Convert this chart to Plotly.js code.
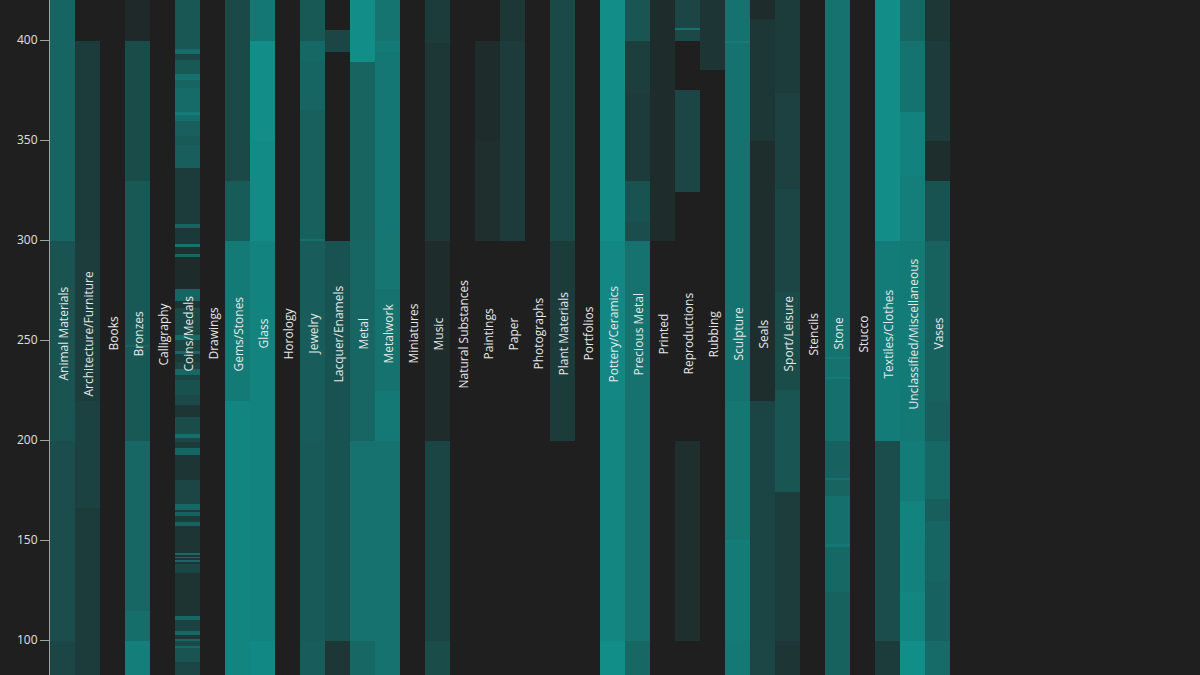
<!DOCTYPE html>
<html><head><meta charset="utf-8">
<script src="https://cdn.plot.ly/plotly-3.0.1.min.js"></script>
<style>html,body{margin:0;padding:0;background:#1f1f1f;}#chart{width:1200px;height:675px;}</style>
</head><body><div id="chart"></div>
<script>
const categories = ["Animal Materials","Architecture/Furniture","Books","Bronzes","Calligraphy","Coins/Medals","Drawings","Gems/Stones","Glass","Horology","Jewelry","Lacquer/Enamels","Metal","Metalwork","Miniatures","Music","Natural Substances","Paintings","Paper","Photographs","Plant Materials","Portfolios","Pottery/Ceramics","Precious Metal","Printed","Reproductions","Rubbing","Sculpture","Seals","Sport/Leisure","Stencils","Stone","Stucco","Textiles/Clothes","Unclassified/Miscellaneous","Vases"];

// each block: [upper year, lower year, intensity level 0-10]
const animalMaterials = [[421,299.5,5.8],[299.5,199.5,4.3],[199.5,99.5,3.6],[99.5,82,3.0]];
const architectureFurniture = [[399.5,299.5,2.0],[299.5,219.5,2.1],[219.5,166,2.6],[166,82,2.0]];
const books = [];
const bronzes = [[421,399.5,0.3],[399.5,329.5,3.5],[329.5,247.5,4.7],[247.5,246.5,5.8],[246.5,199.5,4.7],[199.5,114.4,6.0],[114.4,99.5,6.7],[99.5,82,8.2]];
const calligraphy = [];
const coinsMedals = [[421,395.3,4.5],[395.3,393.1,6.5],[393.1,389.9,3.0],[389.9,383.0,4.7],[383.0,380.2,7.0],[380.2,375.9,5.8],[375.9,364.0,6.3],[364.0,362.3,8.0],[362.3,359.7,6.7],[359.7,352.2,5.3],[352.2,347.3,4.8],[347.3,336.1,5.2],[336.1,308.1,2.0],[308.1,305.9,5.8],[305.9,298.0,1.8],[298.0,296.3,7.0],[296.3,293.0,1.0],[293.0,291.7,6.0],[291.7,275.4,0.5],[275.4,269.4,5.8],[269.4,266.1,1.5],[266.1,252.6,3.2],[252.6,250.0,6.5],[250.0,244.6,2.8],[244.6,243.1,6.0],[243.1,239.2,2.0],[239.2,235.4,2.8],[235.4,232.3,6.0],[232.3,230.2,3.0],[230.2,222.4,4.0],[222.4,217.7,3.2],[217.7,211.3,1.5],[211.3,203.1,3.5],[203.1,200.9,6.8],[200.9,198.8,3.0],[198.8,196.2,2.0],[196.2,192.5,5.8],[192.5,180.0,1.5],[180.0,168.2,3.0],[168.2,165.0,6.0],[165.0,163.9,2.0],[163.9,161.8,5.5],[161.8,159.2,2.0],[159.2,157.0,5.5],[157.0,143.5,1.5],[143.5,142.4,6.0],[142.4,141.7,1.5],[141.7,140.9,6.0],[140.9,140.2,1.5],[140.2,139.2,6.0],[139.2,138.1,1.5],[138.1,133.3,3.0],[133.3,111.8,1.3],[111.8,110.1,6.0],[110.1,104.7,2.7],[104.7,102.6,6.0],[102.6,100.4,1.5],[100.4,99.3,6.0],[99.3,97.2,3.2],[97.2,96.1,6.0],[96.1,89.0,4.3],[89.0,82,3.0]];
const drawings = [];
const gemsStones = [[421,329.5,3.2],[329.5,299.5,5.0],[299.5,219.5,7.8],[219.5,82,8.8]];
const glass = [[421,399.5,7.5],[399.5,349.5,9.5],[349.5,299.5,9.3],[299.5,99.5,8.6],[99.5,82,9.1]];
const horology = [];
const jewelry = [[421,399.5,4.7],[399.5,388.8,6.1],[388.8,365,5.8],[365,300.5,5.4],[300.5,299.5,6.8],[299.5,199.5,5.1],[199.5,99.5,4.8],[99.5,82,5.1]];
const lacquerEnamels = [[405,394,3.0],[299.5,99.5,4.2],[99.5,82,1.6]];
const metal = [[421,389,9.5],[389,299.5,5.7],[299.5,199.5,5.9],[199.5,99.5,7.0],[99.5,82,6.0]];
const metalwork = [[421,399.5,7.2],[399.5,394,7.8],[394,305,7.5],[305,275.5,7.4],[275.5,224.5,7.0],[224.5,199.5,7.6],[199.5,82,7.0]];
const miniatures = [];
const music = [[421,398.5,2.0],[398.5,299.5,1.6],[299.5,199.5,0.6],[199.5,99.5,2.9],[99.5,82,3.5]];
const naturalSubstances = [];
const paintings = [[399.5,349.5,0.6],[349.5,299.5,0.8]];
const paper = [[421,399.5,1.6],[399.5,299.5,1.9]];
const photographs = [];
const plantMaterials = [[421,299.5,3.2],[299.5,199.5,2.0]];
const portfolios = [];
const potteryCeramics = [[421,299.5,9.5],[299.5,219.5,9.0],[219.5,99.5,8.9],[99.5,82,9.6]];
const preciousMetal = [[421,399.5,4.4],[399.5,373.7,2.2],[373.7,329.5,1.9],[329.5,309,4.2],[309,299.5,3.6],[299.5,99.5,7.0],[99.5,82,6.0]];
const printed = [[421,299.5,0.6]];
const reproductions = [[421,406,3.0],[406,405,7.0],[405,399.5,3.2],[374.8,324.2,3.0],[199.5,99.5,0.8]];
const rubbing = [[421,385,1.4]];
const sculpture = [[421,399.5,7.0],[399.5,398.5,8.0],[398.5,339.3,7.0],[339.3,219.5,7.1],[219.5,149.9,7.4],[149.9,148.5,8.2],[148.5,99.5,7.9],[99.5,82,7.6]];
const seals = [[421,410.3,0.6],[410.3,349.5,1.6],[349.5,219.5,0.7],[219.5,99.5,2.9],[99.5,82,3.0]];
const sportLeisure = [[421,373.7,2.0],[373.7,325.3,2.5],[325.3,274.1,3.0],[274.1,225.2,3.5],[225.2,174.2,4.4],[174.2,99.5,2.1],[99.5,82,1.5]];
const stencils = [];
const stone = [[421,241.4,7.0],[241.4,240.3,7.9],[240.3,231.7,7.0],[231.7,230.6,7.9],[230.6,199.5,6.8],[199.5,181.1,5.6],[181.1,180,6.8],[180,172.1,5.7],[172.1,171,6.8],[171,147.8,6.8],[147.8,146.7,7.5],[146.7,124.1,6.1],[124.1,82,5.5]];
const stucco = [];
const textilesClothes = [[421,299.5,9.5],[299.5,199.5,8.0],[199.5,99.5,3.6],[99.5,82,2.0]];
const unclassifiedMisc = [[421,399.5,5.9],[399.5,364,7.1],[364,331.8,8.4],[331.8,299.5,8.2],[299.5,269.4,7.8],[269.4,250,8.0],[250,225.2,7.8],[225.2,199.5,7.6],[199.5,169.3,8.0],[169.3,149.9,8.6],[149.9,124.1,8.4],[124.1,119.8,8.9],[119.8,99.5,8.8],[99.5,82,9.6]];
const vases = [[421,399.5,1.6],[399.5,349.5,1.9],[349.5,329.5,0.7],[329.5,299.5,4.2],[299.5,219.5,5.5],[219.5,199.5,5.2],[199.5,170.4,6.1],[170.4,159.6,5.2],[159.6,129.5,5.8],[129.5,99.5,5.6],[99.5,82,6.3]];

const columns = [animalMaterials, architectureFurniture, books, bronzes, calligraphy, coinsMedals, drawings, gemsStones, glass, horology, jewelry, lacquerEnamels, metal, metalwork, miniatures, music, naturalSubstances, paintings, paper, photographs, plantMaterials, portfolios, potteryCeramics, preciousMetal, printed, reproductions, rubbing, sculpture, seals, sportLeisure, stencils, stone, stucco, textilesClothes, unclassifiedMisc, vases];

const edgeSet = new Set([82, 421]);
columns.forEach(col => col.forEach(([t, b]) => { edgeSet.add(t); edgeSet.add(b); }));
const edges = Array.from(edgeSet).sort((a, b) => a - b);
const z = [];
for (let i = 0; i < edges.length - 1; i++) {
  const mid = (edges[i] + edges[i + 1]) / 2;
  z.push(columns.map(col => {
    const s = col.find(([t, b]) => mid < t && mid > b);
    return s ? s[2] : null;
  }));
}

const trace = {
  type: 'heatmap',
  x: categories,
  y: edges,
  z: z,
  zmin: 0, zmax: 10,
  colorscale: [[0, 'rgb(31,38,38)'], [1, 'rgb(17,146,141)']],
  showscale: false,
  hoverinfo: 'skip',
  zsmooth: false
};

const annotations = categories.map(c => ({
  x: c, y: 253, xref: 'x', yref: 'y', text: c, textangle: -90, showarrow: false,
  font: {family: '"Open Sans", sans-serif', size: 12, color: '#e6e6e6'}
}));

const layout = {
  width: 1200, height: 675,
  paper_bgcolor: '#1f1f1f', plot_bgcolor: '#1f1f1f',
  margin: {l: 50, r: 250, t: 0, b: 0, pad: 0},
  showlegend: false,
  font: {family: '"Open Sans", sans-serif', color: '#e0e0e0'},
  xaxis: {type: 'category', range: [-0.5, 35.5], showticklabels: false, ticks: '', showline: false, showgrid: false, zeroline: false},
  yaxis: {range: [82.5, 420], tick0: 0, dtick: 50, ticks: 'outside', ticklen: 9, tickcolor: '#9aa3a3', showline: true, linecolor: '#9aa3a3', linewidth: 1, showgrid: false, zeroline: false, tickfont: {family: '"Open Sans", sans-serif', size: 12, color: '#e0e0e0'}},
  annotations: annotations
};

Plotly.newPlot('chart', [trace], layout, {displayModeBar: false, staticPlot: true});
</script></body></html>
